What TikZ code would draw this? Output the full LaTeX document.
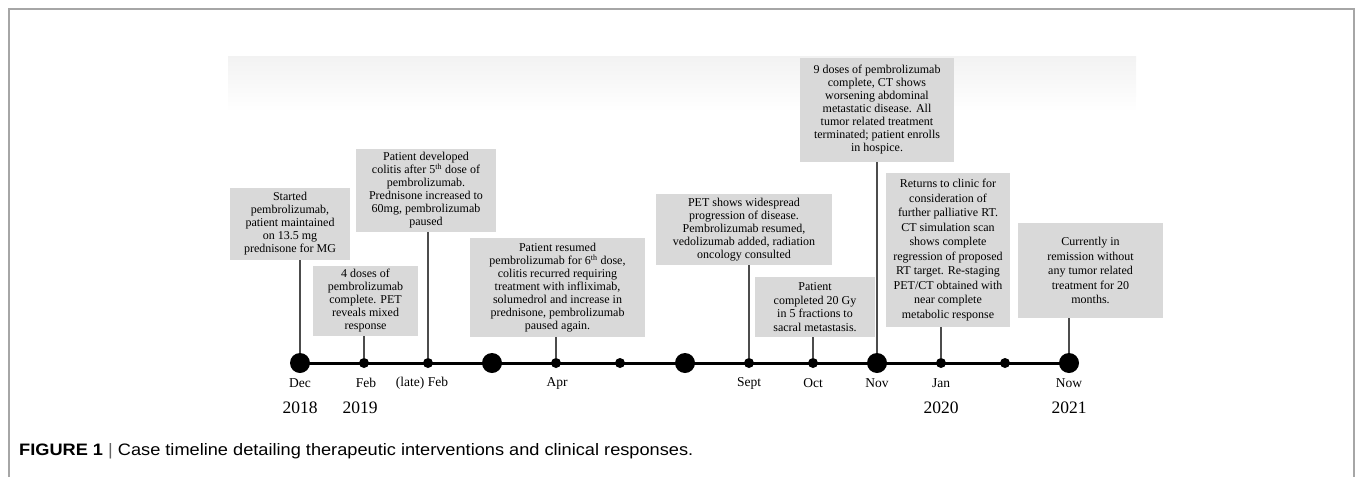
\documentclass[tikz,border=0pt]{standalone}
\usepackage{fontspec}
\usepackage{graphicx}
\setmainfont{Liberation Serif}
\newfontfamily\capfont{Liberation Sans}
\definecolor{boxgray}{HTML}{D9D9D9}
\definecolor{framegray}{HTML}{A6A6A6}
\tikzset{
  evbox/.style={fill=boxgray, align=center, inner sep=0pt, font=\fontsize{12}{13}\selectfont},
  bigdot/.style={circle, fill=black, inner sep=0pt, minimum size=20pt},
  smalldot/.style={circle, fill=black, inner sep=0pt, minimum size=10pt},
  stem/.style={draw=black!70, line width=1.3pt},
  month/.style={font=\fontsize{13.5}{15}\selectfont, inner sep=0pt},
  yearlab/.style={font=\fontsize{17.5}{20}\selectfont, inner sep=0pt},
}
\begin{document}
\begin{tikzpicture}[x=1pt, y=-1pt]
\useasboundingbox (0,0) rectangle (1355,477);
% frame
\draw[framegray, line width=1.5pt] (9,477) -- (9,9) -- (1354,9) -- (1354,477);
% background band
\shade[top color=black!5, bottom color=white] (228,56) rectangle (1136,112);

% boxes
\node[evbox, minimum width=120pt, minimum height=72pt] (b1) at (290,224) {Started\\pembrolizumab,\\patient maintained\\on 13.5 mg\\prednisone for MG};
\node[evbox, minimum width=105pt, minimum height=70pt] (b2) at (365.5,301) {4 doses of\\pembrolizumab\\complete. PET\\reveals mixed\\response};
\node[evbox, minimum width=140pt, minimum height=83pt] (b3) at (426,190.5) {Patient developed\\colitis after 5\textsuperscript{th} dose of\\pembrolizumab.\\Prednisone increased to\\60mg, pembrolizumab\\paused};
\node[evbox, minimum width=175pt, minimum height=99pt] (b4) at (557.5,287.5) {Patient resumed\\pembrolizumab for 6\textsuperscript{th} dose,\\colitis recurred requiring\\treatment with infliximab,\\solumedrol and increase in\\prednisone, pembrolizumab\\paused again.};
\node[evbox, minimum width=176pt, minimum height=71pt] (b5) at (744,229.5) {PET shows widespread\\progression of disease.\\Pembrolizumab resumed,\\vedolizumab added, radiation\\oncology consulted};
\node[evbox, minimum width=120pt, minimum height=60pt, font=\fontsize{12}{13.6}\selectfont] (b6) at (815,307) {Patient\\completed 20 Gy\\in 5 fractions to\\sacral metastasis.};
\node[evbox, minimum width=154pt, minimum height=104pt] (b7) at (877,110) {9 doses of pembrolizumab\\complete, CT shows\\worsening abdominal\\metastatic disease. All\\tumor related treatment\\terminated; patient enrolls\\in hospice.};
\node[evbox, minimum width=124pt, minimum height=154pt, font=\fontsize{12}{14.5}\selectfont] (b8) at (948,250) {Returns to clinic for\\consideration of\\further palliative RT.\\CT simulation scan\\shows complete\\regression of proposed\\RT target. Re-staging\\PET/CT obtained with\\near complete\\metabolic response};
\node[evbox, minimum width=145pt, minimum height=95pt, font=\fontsize{12}{14.5}\selectfont] (b9) at (1090.5,270.5) {Currently in\\remission without\\any tumor related\\treatment for 20\\months.};

% timeline
\coordinate (tl0) at (300,363);
\coordinate (tl1) at (1069,363);
\draw[line width=3pt] (tl0) -- (tl1);

\node[bigdot]   (d0)  at (300,363) {};
\node[smalldot] (d1)  at (364,363) {};
\node[smalldot] (d2)  at (428,363) {};
\node[bigdot]   (d3)  at (492,363) {};
\node[smalldot] (d4)  at (556,363) {};
\node[smalldot] (d5)  at (620,363) {};
\node[bigdot]   (d6)  at (685,363) {};
\node[smalldot] (d7)  at (749,363) {};
\node[smalldot] (d8)  at (813,363) {};
\node[bigdot]   (d9)  at (877,363) {};
\node[smalldot] (d10) at (941,363) {};
\node[smalldot] (d11) at (1005,363) {};
\node[bigdot]   (d12) at (1069,363) {};

% stems
\draw[stem] (d0) -- (d0 |- b1.south);
\draw[stem] (d1) -- (d1 |- b2.south);
\draw[stem] (d2) -- (d2 |- b3.south);
\draw[stem] (d4) -- (d4 |- b4.south);
\draw[stem] (d7) -- (d7 |- b5.south);
\draw[stem] (d8) -- (d8 |- b6.south);
\draw[stem] (d9) -- (d9 |- b7.south);
\draw[stem] (d10) -- (d10 |- b8.south);
\draw[stem] (d12) -- (d12 |- b9.south);
% redraw dots over stems
\foreach \d in {d0,d1,d2,d4,d7,d8,d9,d10,d12}{\fill (\d) circle (0pt);}

% month labels
\node[month] (m0) at (300,383) {Dec};
\node[month] (m1) at (366,383) {Feb};
\node[month] (m2) at (422,383) {(late) Feb};
\node[month] (m4) at (557,383) {Apr};
\node[month] (m7) at (749,383) {Sept};
\node[month] (m8) at (813,383) {Oct};
\node[month] (m9) at (877,383) {Nov};
\node[month] (m10) at (941,383) {Jan};
\node[month] (m12) at (1069,383) {Now};
% years
\node[yearlab] (y18) at (300,408) {2018};
\node[yearlab] (y19) at (360,408) {2019};
\node[yearlab] (y20) at (941,408) {2020};
\node[yearlab] (y21) at (1069,408) {2021};

% caption
\node[anchor=base west, inner sep=0pt] (cap) at (19,455) {\resizebox{674pt}{12pt}{\capfont\textbf{FIGURE 1} {\color{black!60}|} Case timeline detailing therapeutic interventions and clinical responses.}};
\end{tikzpicture}
\end{document}
